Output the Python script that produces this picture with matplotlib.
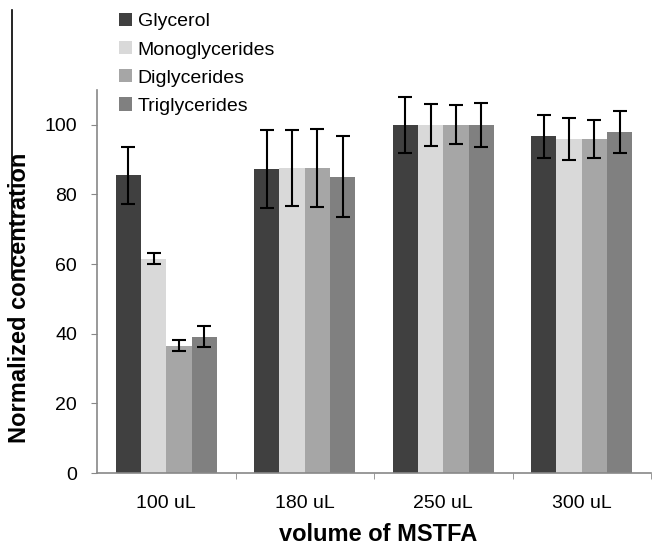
import numpy as np
import matplotlib
matplotlib.use("Agg")
import matplotlib.pyplot as plt
from matplotlib.lines import Line2D

plt.rcParams['font.family'] = ['Liberation Sans', 'DejaVu Sans']

volumes = ["100 uL", "180 uL", "250 uL", "300 uL"]
series = ["Glycerol", "Monoglycerides", "Diglycerides", "Triglycerides"]
colors = ["#404040", "#d9d9d9", "#a6a6a6", "#808080"]

glycerol = [85.5, 87.2, 100.0, 96.7]
glycerol_err = [8.2, 11.2, 8.0, 6.2]
mono = [61.6, 87.6, 100.0, 96.0]
mono_err = [1.6, 11.0, 6.0, 6.0]
di = [36.6, 87.6, 100.0, 96.0]
di_err = [1.6, 11.2, 5.6, 5.4]
tri = [39.2, 85.1, 100.0, 98.0]
tri_err = [3.0, 11.7, 6.4, 6.0]

values = [glycerol, mono, di, tri]
errors = [glycerol_err, mono_err, di_err, tri_err]

W, H = 652, 547
fig = plt.figure(figsize=(W / 100, H / 100), dpi=100)
ax = fig.add_axes([97 / W, 1 - 473 / H, 554 / W, 383 / H])

x = np.arange(len(volumes))
w = 0.183
for i, (vals, errs) in enumerate(zip(values, errors)):
    pos = x + (i - 1.5) * w
    ax.bar(pos, vals, width=w, color=colors[i], label=series[i], zorder=2)
    ax.errorbar(pos, vals, yerr=errs, fmt='none', ecolor='black',
                elinewidth=1.5, capsize=4.7, capthick=1.5, zorder=3)

ax.set_xlim(-0.5, len(volumes) - 0.5)
ax.set_ylim(0, 110)
ax.set_yticks(range(0, 101, 20))
ax.set_xticks(x)
ax.set_xticklabels(volumes, fontsize=14)
ax.set_xticks(np.arange(0.5, len(volumes), 1.0), minor=True)
ax.tick_params(axis='x', which='major', length=0, pad=16)
ax.tick_params(axis='x', which='minor', length=4.3, color='#888888', direction='out')
ax.tick_params(axis='y', length=4.3, color='#888888', labelsize=14, pad=10)

for side in ['top', 'right']:
    ax.spines[side].set_visible(False)
for side in ['left', 'bottom']:
    ax.spines[side].set_color('#888888')
    ax.spines[side].set_linewidth(1.2)

# axis titles placed like the original (y title sits a bit low)
fig.text(20 / W, 1 - 298 / H, "Normalized concentration", rotation=90,
         ha='center', va='center', fontsize=17, fontweight='bold')
fig.text(378.5 / W, 1 - 541 / H, "volume of MSTFA", ha='center',
         va='baseline', fontsize=17, fontweight='bold')

fig.legend(loc='upper left', bbox_to_anchor=(119 / W, 1 - 13 / H), frameon=False,
           fontsize=14, handlelength=0.67, handleheight=0.67, borderpad=0,
           handletextpad=0.3, labelspacing=0.55, borderaxespad=0)

# stray crop border on the left of the original image
fig.add_artist(Line2D([12 / W, 12 / W], [1 - 10 / H, 1 - 278 / H],
                      color='black', linewidth=1.2))

fig.savefig("out.png", dpi=100)
